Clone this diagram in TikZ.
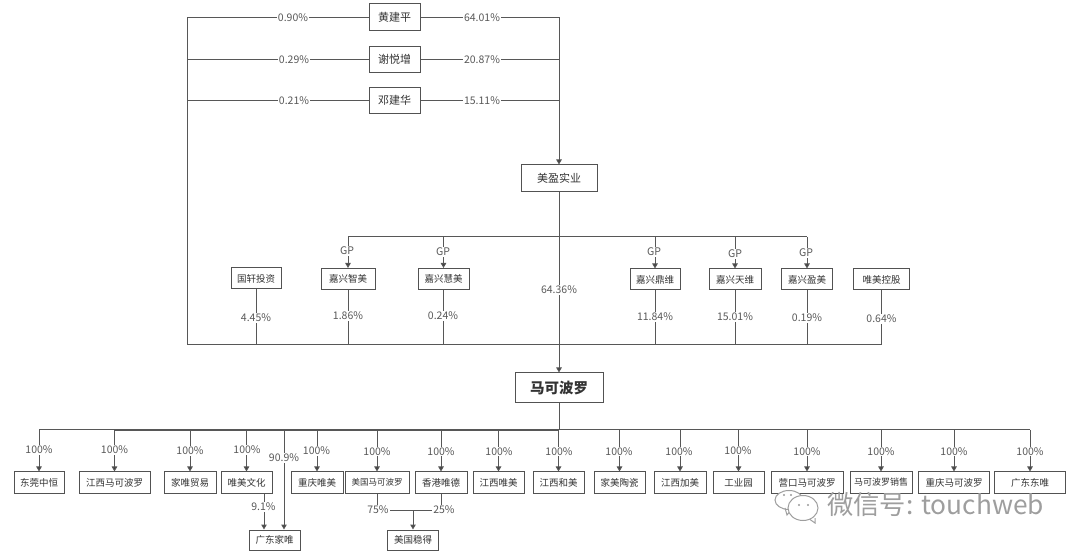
\documentclass[tikz,border=0pt]{standalone}
\usepackage{fontspec}
\setmainfont{Noto Sans CJK SC}
\usetikzlibrary{arrows.meta}
\tikzset{
  line/.style={draw=black!66,line width=1pt},
  flow/.style={line,-{Triangle[length=5pt,width=5.5pt,fill=black!75]}},
  box/.style={draw=black!68,line width=1pt,fill=white,inner sep=0pt,minimum height=21pt,font=\fontsize{9.5}{10}\selectfont,text=black!80},
  bigbox/.style={box,font=\fontsize{11}{12}\selectfont},
  pct/.style={fill=white,inner sep=1pt,font=\fontsize{10.5}{11}\selectfont,text=black!65},
  wmark/.style={text=black!38,font=\fontsize{26.3}{28}\selectfont},
  bubble/.style={draw=black!38,line width=1pt}
}
\begin{document}
\begin{tikzpicture}[x=1pt,y=-1pt]
\useasboundingbox (0,0) rectangle (1080,553);
% owners
\node[bigbox,minimum width=51pt,minimum height=27pt] (p1) at (394.5,17.5) {黄建平};
\node[bigbox,minimum width=51pt,minimum height=26pt] (p2) at (394.5,59.5) {谢悦增};
\node[bigbox,minimum width=51pt,minimum height=26pt] (p3) at (394.5,100.5) {邓建华};
\node[bigbox,minimum width=76pt,minimum height=27pt] (my) at (559,178.5) {美盈实业};
\node[box,minimum width=50pt] (gx) at (256,278.5) {国轩投资};
\node[box,minimum width=54pt] (zm) at (348,279) {嘉兴智美};
\node[box,minimum width=51pt] (hm) at (443.5,279) {嘉兴慧美};
\node[box,minimum width=50pt] (cw) at (655,279.5) {嘉兴鼎维};
\node[box,minimum width=52pt] (tw) at (735,279.5) {嘉兴天维};
\node[box,minimum width=51pt] (ym) at (807,279.5) {嘉兴盈美};
\node[box,minimum width=56pt] (wk) at (881.5,279.5) {唯美控股};
\node[box,minimum width=88pt,minimum height=30pt,font=\fontsize{14.5}{16}\selectfont\bfseries] (mk) at (559,388) {马可波罗};
% subsidiaries
\node[box,minimum width=50pt] (k1) at (39,482.5) {东莞中恒};
\node[box,minimum width=71pt] (k2) at (114.5,482.5) {江西马可波罗};
\node[box,minimum width=52pt] (k3) at (190,482.5) {家唯贸易};
\node[box,minimum width=51pt] (k4) at (246.5,482.5) {唯美文化};
\node[box,minimum width=52pt] (k5) at (317,482.5) {重庆唯美};
\node[box,minimum width=64pt,font=\fontsize{8.5}{10}\selectfont] (k6) at (377,482.5) {美国马可波罗};
\node[box,minimum width=52pt] (k7) at (441,482.5) {香港唯德};
\node[box,minimum width=51pt] (k8) at (498.5,482.5) {江西唯美};
\node[box,minimum width=51pt] (k9) at (558.5,482.5) {江西和美};
\node[box,minimum width=51pt] (k10) at (619.5,482.5) {家美陶瓷};
\node[box,minimum width=52pt] (k11) at (680,482.5) {江西加美};
\node[box,minimum width=51pt] (k12) at (738.5,482.5) {工业园};
\node[box,minimum width=72pt] (k13) at (807,482.5) {营口马可波罗};
\node[box,minimum width=62pt,font=\fontsize{9}{10}\selectfont] (k14) at (881,482.5) {马可波罗销售};
\node[box,minimum width=71pt] (k15) at (954,482.5) {重庆马可波罗};
\node[box,minimum width=71pt] (k16) at (1030,482.5) {广东东唯};
\node[box,minimum width=51pt,minimum height=20pt] (gj) at (274.5,540) {广东家唯};
\node[box,minimum width=51pt,minimum height=20pt] (md) at (413,540) {美国稳得};
% helper coordinates
\coordinate (lt) at (187,17.5);
\coordinate (lb) at (187,345);
\coordinate (l2) at (187,59.5);
\coordinate (l3) at (187,100.5);
\coordinate (r1) at (559,17.5);
\coordinate (gl) at (348,237);
\coordinate (gr) at (807,237);
\coordinate (rb) at (881.5,345);
\coordinate (bl) at (39,430);
\coordinate (bm) at (559,430);
\coordinate (br) at (1030,430);
\coordinate (b2) at (114.5,430);
\coordinate (mm) at (413,510);
\coordinate (ml) at (377,510);
\coordinate (mr) at (441,510);
% connectors
\draw[line] (p1.west) -- (lt) -- (lb) -- (rb) -- (wk.south);
\draw[line] (p2.west) -- (l2);
\draw[line] (p3.west) -- (l3);
\draw[line] (p1.east) -- (r1);
\draw[line] (p2.east) -- (p2.east -| r1);
\draw[line] (p3.east) -- (p3.east -| r1);
\draw[flow] (r1) -- (my.north);
\draw[flow] (my.south) -- (mk.north);
\draw[line] (gl) -- (gr);
\draw[flow] (gl) -- (zm.north);
\draw[flow] (gl -| hm) -- (hm.north);
\draw[flow] (gl -| cw) -- (cw.north);
\draw[flow] (gl -| tw) -- (tw.north);
\draw[flow] (gr) -- (ym.north);
\foreach \n in {gx,zm,hm,cw,tw,ym} \draw[line] (\n.south) -- (lb -| \n);
\draw[line] (mk.south) -- (bm);
\draw[line] (bl) -- (br);
\draw[line,line width=1.6pt] (b2) -- (bm);
\foreach \n in {k1,k2,k3,k4,k5,k6,k7,k8,k9,k10,k11,k12,k13,k14,k15,k16} \draw[flow] (bl -| \n) -- (\n.north);
\draw[flow] (k4.south -| 264,0) -- (gj.north -| 264,0);
\draw[flow] (bl -| 284,0) -- (gj.north -| 284,0);
\draw[line] (k6.south) -- (ml) -- (mr) -- (k7.south);
\draw[flow] (mm) -- (md.north);
% labels
\node[pct] (a1) at (293,18) {0.90\%};
\node[pct] (a2) at (294,59.5) {0.29\%};
\node[pct] (a3) at (294,100.5) {0.21\%};
\node[pct] (b1) at (482,17.5) {64.01\%};
\node[pct] (b2l) at (482,60) {20.87\%};
\node[pct] (b3) at (482,101) {15.11\%};
\node[pct] (g1) at (347,251) {GP};
\node[pct] (g2) at (443,252) {GP};
\node[pct] (g3) at (654,252) {GP};
\node[pct] (g4) at (735,254) {GP};
\node[pct] (g5) at (806,253) {GP};
\node[pct] (c0) at (559,290) {64.36\%};
\node[pct] (c1) at (256,318) {4.45\%};
\node[pct] (c2) at (348,316) {1.86\%};
\node[pct] (c3) at (443,316) {0.24\%};
\node[pct] (c4) at (655,317) {11.84\%};
\node[pct] (c5) at (735,317) {15.01\%};
\node[pct] (c6) at (807,318) {0.19\%};
\node[pct] (c7) at (881.5,319) {0.64\%};
\foreach \n/\x/\y in {k1/39/450,k2/114.5/450,k3/190/451,k4/247/450,k5/316.5/451,k6/377/451.5,k7/441/451.5,k8/499/451.5,k9/559/451.5,k10/619/451.5,k11/679/451.5,k12/738/450.5,k13/807/451.5,k14/881/451.5,k15/954/451.5,k16/1030/451.5}
  \node[pct] (l\n) at (\x,\y) {100\%};
\node[pct] (n909) at (284,458) {90.9\%};
\node[pct] (n91) at (263.5,507) {9.1\%};
\node[pct] (n75) at (378,509.5) {75\%};
\node[pct] (n25) at (444,509.5) {25\%};
% watermark
\draw[bubble,fill=white] (789,500) ellipse (14pt and 9.5pt);
\draw[bubble] (785,508) -- (787,515) -- (792,509);
\draw[bubble,fill=white] (803,508) ellipse (15pt and 12.5pt);
\draw[bubble,fill=white] (810,519.5) -- (815,523) -- (815,518);
\fill[black!40] (799,505) circle (1.2pt) (808,505) circle (1.2pt) (784,495) circle (1.1pt) (791,495) circle (1.1pt);
\node[wmark,anchor=west,inner sep=0pt] (wt) at (827,505) {微信号: touchweb};
\end{tikzpicture}
\end{document}
